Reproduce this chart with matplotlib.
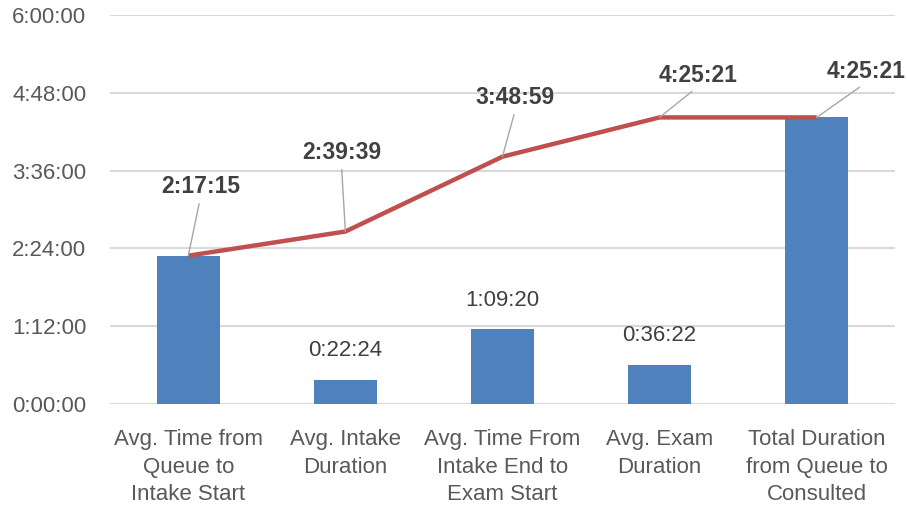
import matplotlib
matplotlib.use('Agg')
import matplotlib.pyplot as plt

plt.rcParams['font.family'] = ['Liberation Sans', 'DejaVu Sans']

categories = ['Avg. Time from\nQueue to\nIntake Start',
              'Avg. Intake\nDuration',
              'Avg. Time From\nIntake End to\nExam Start',
              'Avg. Exam\nDuration',
              'Total Duration\nfrom Queue to\nConsulted']
bar_labels = ['2:17:15', '0:22:24', '1:09:20', '0:36:22', '4:25:21']
line_labels = ['2:17:15', '2:39:39', '3:48:59', '4:25:21', '4:25:21']
yticks_labels = ['0:00:00', '1:12:00', '2:24:00', '3:36:00', '4:48:00', '6:00:00']


def to_hours(s):
    h, m, sec = [int(p) for p in s.split(':')]
    return h + m / 60 + sec / 3600


bars = [to_hours(s) for s in bar_labels]
cumulative = [to_hours(s) for s in line_labels]
yticks = [to_hours(s) for s in yticks_labels]

fig = plt.figure(figsize=(9.07, 5.08), dpi=100)
ax = fig.add_axes([0.121, 0.205, 0.866, 0.765])

x = list(range(len(categories)))
ax.bar(x, bars, width=0.4, color='#4F81BD', zorder=2)
ax.plot(x, cumulative, color='#C0504D', linewidth=3.2, zorder=3,
        solid_capstyle='butt')

# labels of the small bars (the others are covered by the line labels)
for i in (1, 2, 3):
    ax.annotate(bar_labels[i], (x[i], bars[i]), xytext=(0, 29),
                textcoords='offset pixels', ha='center', va='center',
                fontsize=16, color='#404040')

offsets = [(12, 69), (-4, 79), (13, 59), (38, 42), (49, 46)]
for i, (dx, dy) in enumerate(offsets):
    ax.annotate(line_labels[i], (x[i], cumulative[i]), xytext=(dx, dy),
                textcoords='offset pixels', ha='center', va='center',
                fontsize=16.5, fontweight='bold', color='#404040', zorder=4,
                arrowprops=dict(arrowstyle='-', color='#A6A6A6', lw=1.0,
                                shrinkA=2, shrinkB=0, relpos=(0.5, 0)))

ax.set_xlim(-0.5, 4.5)
ax.set_ylim(0, 6)
ax.set_yticks(yticks)
ax.set_yticklabels(yticks_labels)
ax.set_xticks(x)
ax.set_xticklabels(categories, linespacing=1.42)
ax.tick_params(axis='both', length=0, labelsize=16, labelcolor='#595959')
ax.tick_params(axis='y', pad=17)
ax.tick_params(axis='x', pad=18)
ax.grid(axis='y', color='#D9D9D9', linewidth=1.5, zorder=0)
ax.set_axisbelow(True)
for s in ax.spines.values():
    s.set_visible(False)

fig.savefig('out.png', dpi=100)
